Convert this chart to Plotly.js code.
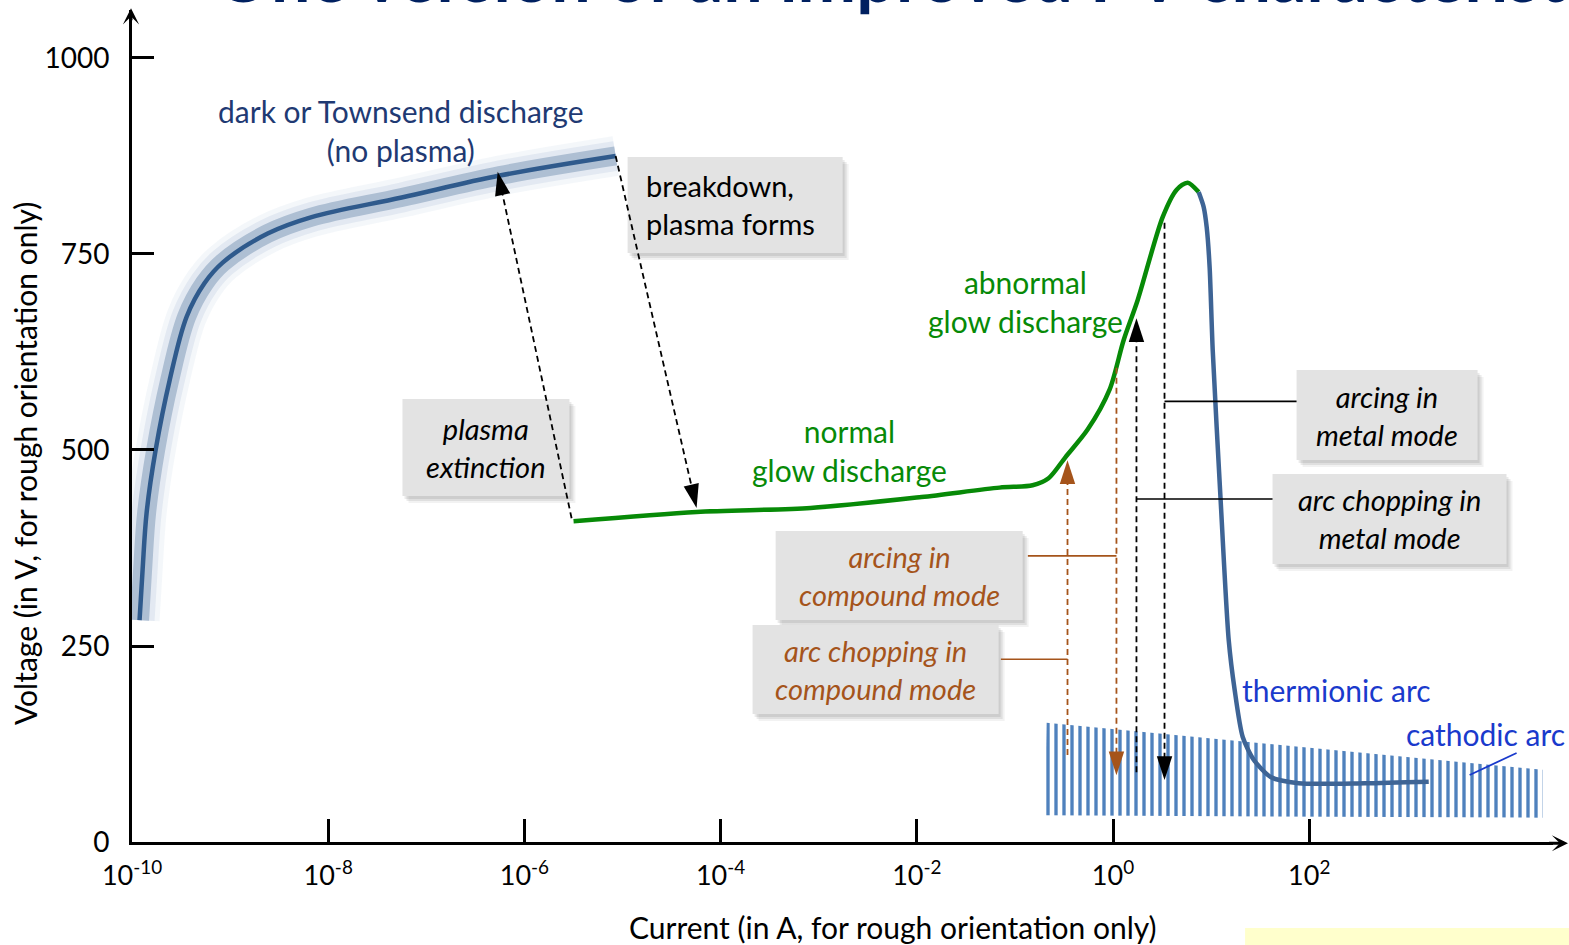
<!DOCTYPE html>
<html><head><meta charset="utf-8">
<script src="https://cdn.plot.ly/plotly-3.0.1.min.js"></script>
<style>html,body{margin:0;padding:0;background:#fff;} #chart{width:1569px;height:945px;}</style>
</head><body><div id="chart"></div>
<script>
// ---- data: log10 of current (A) and voltage (V) ----
const townsendLogI = [-9.923, -9.892, -9.851, -9.759, -9.616, -9.443, -9.260, -9.076, -8.617, -8.169, -7.251, -6.252, -5.070];
const townsendV    = [283, 347, 420, 500, 589, 670, 713, 739, 776, 797, 822, 850, 875];

const glowLogI = [-5.499, -4.245, -3.083, -1.952, -1.156, -0.820, -0.657, -0.484, -0.259, -0.035, 0.108, 0.251, 0.506, 0.649, 0.761, 0.873];
const glowV    = [409, 421, 426, 440, 452, 455, 464, 491, 526, 577, 640, 691, 797, 832, 841, 829];

const arcLogI = [0.873, 0.924, 0.955, 0.985, 1.016, 1.097, 1.179, 1.240, 1.322, 1.434, 1.607, 1.893, 2.566, 3.218];
const arcV    = [829, 810, 784, 733, 628, 436, 258, 194, 134, 105, 83, 75, 75, 77];

const cathodicLogI = [-0.678, 4.378, 4.378, -0.697];
const cathodicV    = [152, 92, 31, 34];

// transition arrows (start -> tip)
const breakdownLogI   = [-5.070, -4.245]; const breakdownV   = [875, 426];
const extinctionLogI  = [-5.519, -6.272]; const extinctionV  = [413, 855];
const cmpChopLogI     = [-0.464, -0.464]; const cmpChopV     = [111, 487];
const cmpArcLogI      = [0.035, 0.035];   const cmpArcV      = [605, 85];
const metChopLogI     = [0.239, 0.239];   const metChopV     = [89, 668];
const metArcLogI      = [0.525, 0.525];   const metArcV      = [790, 79];

// label leader lines
const metArcLeadLogI  = [0.525, 1.871];  const metArcLeadV  = [562, 562];
const metChopLeadLogI = [0.239, 1.626];  const metChopLeadV = [437.5, 437.5];
const cmpArcLeadLogI  = [-0.868, 0.035]; const cmpArcLeadV  = [365, 365];
const cmpChopLeadLogI = [-1.143, -0.464];const cmpChopLeadV = [233, 233];
const cathLeadLogI    = [3.635, 4.114];  const cathLeadV    = [85.5, 113.5];

const xTickExp  = [-10, -8, -6, -4, -2, 0, 2];
const yTickVals = [0, 250, 500, 750, 1000];
const yTickText = ['0', '250', '500', '750', '1000'];

// ---- helpers ----
const A = arr => arr.map(e => Math.pow(10, e));
const FONT = 'Lato, "Open Sans", sans-serif';
const BLACK = '#000000', BROWN = '#A5541B', GREEN = '#078A07', NAVY = '#1F3A73',
      ARC = '#3E6495', LBLUE = '#1A3ACC';
const LBL = 30, BOXF = 29;

function line(lx, v, color, width, extra) {
  return Object.assign({type: 'scatter', mode: 'lines', x: A(lx), y: v,
    line: {color: color, width: width}, hoverinfo: 'skip', showlegend: false}, extra || {});
}
function arrow(lx, v, color) {
  return {type: 'scatter', mode: 'lines+markers', x: A(lx), y: v,
    line: {color: color, width: 1.8, dash: '6px,4px'},
    marker: {symbol: 'arrow', size: 25, color: color, angleref: 'previous'},
    hoverinfo: 'skip', showlegend: false, cliponaxis: false};
}

const traces = [
  {type: 'scatter', mode: 'lines', x: A(cathodicLogI), y: cathodicV, fill: 'toself',
   fillcolor: 'rgba(255,255,255,0)', line: {width: 0, color: 'rgba(0,0,0,0)'},
   fillpattern: {shape: '|', size: 8, solidity: 0.42, fgcolor: '#4F81BD', bgcolor: 'rgba(255,255,255,0)'},
   hoverinfo: 'skip', showlegend: false},
  line(townsendLogI, townsendV, '', 0, {line: {color: 'rgba(150,172,205,0.10)', width: 40, shape: 'spline'}, cliponaxis: false}),
  line(townsendLogI, townsendV, '', 0, {line: {color: 'rgba(150,172,205,0.18)', width: 30, shape: 'spline'}, cliponaxis: false}),
  line(townsendLogI, townsendV, '', 0, {line: {color: '#AEBFD3', width: 19, shape: 'spline'}, cliponaxis: false}),
  line(townsendLogI, townsendV, '', 0, {line: {color: '#2F5A8C', width: 4.5, shape: 'spline'}}),
  line(glowLogI, glowV, '', 0, {line: {color: GREEN, width: 4.5, shape: 'spline', smoothing: 0.8}}),
  line(arcLogI, arcV, '', 0, {line: {color: ARC, width: 4.5, shape: 'spline', smoothing: 0.7}}),
  line(metArcLeadLogI, metArcLeadV, BLACK, 1.6),
  line(metChopLeadLogI, metChopLeadV, BLACK, 1.6),
  line(cmpArcLeadLogI, cmpArcLeadV, BROWN, 1.6),
  line(cmpChopLeadLogI, cmpChopLeadV, BROWN, 1.6),
  line(cathLeadLogI, cathLeadV, LBLUE, 1.8),
  arrow(breakdownLogI, breakdownV, BLACK),
  arrow(extinctionLogI, extinctionV, BLACK),
  arrow(cmpChopLogI, cmpChopV, BROWN),
  arrow(cmpArcLogI, cmpArcV, BROWN),
  arrow(metChopLogI, metChopV, BLACK),
  arrow(metArcLogI, metArcV, BLACK)
];

// ---- layout geometry ----
const PXDEC = 98.1, PXV = 0.784;
const boxes = [
  {l: -4.948, r: -2.756, t: 873.7, b: 751.3, text: 'breakdown,<br>plasma forms', color: BLACK, align: 'left'},
  {l: -7.243, r: -5.541, t: 565.1, b: 441.3, text: '<i>plasma<br>extinction</i>', color: BLACK},
  {l: 1.871, r: 3.716, t: 602.0, b: 487.2, text: '<i>arcing in<br>metal mode</i>', color: BLACK},
  {l: 1.626, r: 4.011, t: 469.4, b: 354.6, text: '<i>arc chopping in<br>metal mode</i>', color: BLACK},
  {l: -3.439, r: -0.921, t: 396.7, b: 283.2, text: '<i>arcing in<br>compound mode</i>', color: BROWN},
  {l: -3.674, r: -1.166, t: 276.8, b: 163.3, text: '<i>arc chopping in<br>compound mode</i>', color: BROWN}
];
const shapes = [];
const annotations = [];
boxes.forEach(b => {
  [[6, 7, 'rgba(0,0,0,0.05)'], [4, 5, 'rgba(0,0,0,0.08)'], [2, 3, 'rgba(0,0,0,0.08)']].forEach(s => {
    shapes.push({type: 'rect', layer: 'below', xref: 'x', yref: 'y',
      x0: Math.pow(10, b.l + s[0] / PXDEC), x1: Math.pow(10, b.r + s[0] / PXDEC),
      y0: b.b - s[1] / PXV, y1: b.t - s[1] / PXV, fillcolor: s[2], line: {width: 0}});
  });
  shapes.push({type: 'rect', layer: 'below', xref: 'x', yref: 'y',
    x0: Math.pow(10, b.l), x1: Math.pow(10, b.r), y0: b.b, y1: b.t,
    fillcolor: '#E3E3E3', line: {width: 0}});
  const left = b.align === 'left';
  annotations.push({xref: 'x', yref: 'y', x: left ? b.l + 16 / PXDEC : (b.l + b.r) / 2, y: (b.t + b.b) / 2,
    xanchor: left ? 'left' : 'center', yanchor: 'middle', align: left ? 'left' : 'center',
    text: b.text, showarrow: false, font: {family: FONT, size: BOXF, color: b.color}});
});
// pale yellow strip at bottom right
shapes.push({type: 'rect', xref: 'paper', yref: 'paper', x0: 0.7833, x1: 1.02, y0: -0.2, y1: -0.1034,
  fillcolor: '#FFFFCC', line: {width: 0}, layer: 'below'});

function label(x, y, text, color, anchor) {
  annotations.push({xref: 'x', yref: 'y', x: x, y: y, text: text, showarrow: false,
    xanchor: anchor || 'center', yanchor: 'middle', align: anchor || 'center',
    font: {family: FONT, size: LBL, color: color}});
}
label(-7.253, 908, 'dark or Townsend discharge<br>(no plasma)', NAVY);
label(-2.686, 499, 'normal<br>glow discharge', GREEN);
label(-0.891, 689, 'abnormal<br>glow discharge', GREEN);
label(1.291, 194, 'thermionic arc', LBLUE, 'left');
label(2.962, 138, 'cathodic arc', LBLUE, 'left');

// axis titles
annotations.push({xref: 'paper', yref: 'paper', x: -0.0753, y: 0.4555, textangle: -90, showarrow: false,
  text: 'Voltage (in V, for rough orientation only)', xanchor: 'center', yanchor: 'middle',
  font: {family: FONT, size: LBL, color: '#000'}});
annotations.push({xref: 'paper', yref: 'paper', x: 0.5355, y: -0.1022, showarrow: false,
  text: 'Current (in A, for rough orientation only)', xanchor: 'center', yanchor: 'middle',
  font: {family: FONT, size: LBL, color: '#000'}});
// axis arrowheads
annotations.push({xref: 'paper', yref: 'paper', x: 1.0106, y: -0.0015, ax: -22, ay: 0, text: ' ',
  showarrow: true, arrowhead: 3, arrowsize: 0.9, arrowwidth: 3, arrowcolor: '#000'});
annotations.push({xref: 'paper', yref: 'paper', x: -0.0007, y: 1.002, ax: 0, ay: 22, text: ' ',
  showarrow: true, arrowhead: 3, arrowsize: 0.9, arrowwidth: 3, arrowcolor: '#000'});
// slide title, cut off at the top edge (as in the reference)
annotations.push({xref: 'paper', yref: 'paper', x: 0.057, y: 0.9892, xanchor: 'left', yanchor: 'bottom',
  showarrow: false, text: '<b>One version of an improved I-V characteristic</b>',
  font: {family: FONT, size: 70, color: '#002060'}});

const layout = {
  width: 1569, height: 945,
  margin: {l: 132, r: 16, t: 10, b: 103},
  paper_bgcolor: '#ffffff', plot_bgcolor: '#ffffff',
  showlegend: false,
  xaxis: {type: 'log', range: [-10, 4.485], showgrid: false, zeroline: false,
    showline: true, linewidth: 3, linecolor: '#000',
    ticks: 'inside', ticklen: 23, tickwidth: 3, tickcolor: '#000',
    tickvals: A(xTickExp), ticktext: xTickExp.map(e => '10<sup>' + e + '</sup>'),
    tickfont: {family: FONT, size: 27, color: '#000'}, ticklabelstandoff: 8},
  yaxis: {range: [0, 1061.2], showgrid: false, zeroline: false,
    showline: true, linewidth: 3, linecolor: '#000',
    ticks: 'inside', ticklen: 22, tickwidth: 3, tickcolor: '#000',
    tickvals: yTickVals, ticktext: yTickText,
    tickfont: {family: FONT, size: 28, color: '#000'}, ticklabelstandoff: 14},
  shapes: shapes,
  annotations: annotations
};

Plotly.newPlot('chart', traces, layout, {staticPlot: true, displayModeBar: false});
</script></body></html>
